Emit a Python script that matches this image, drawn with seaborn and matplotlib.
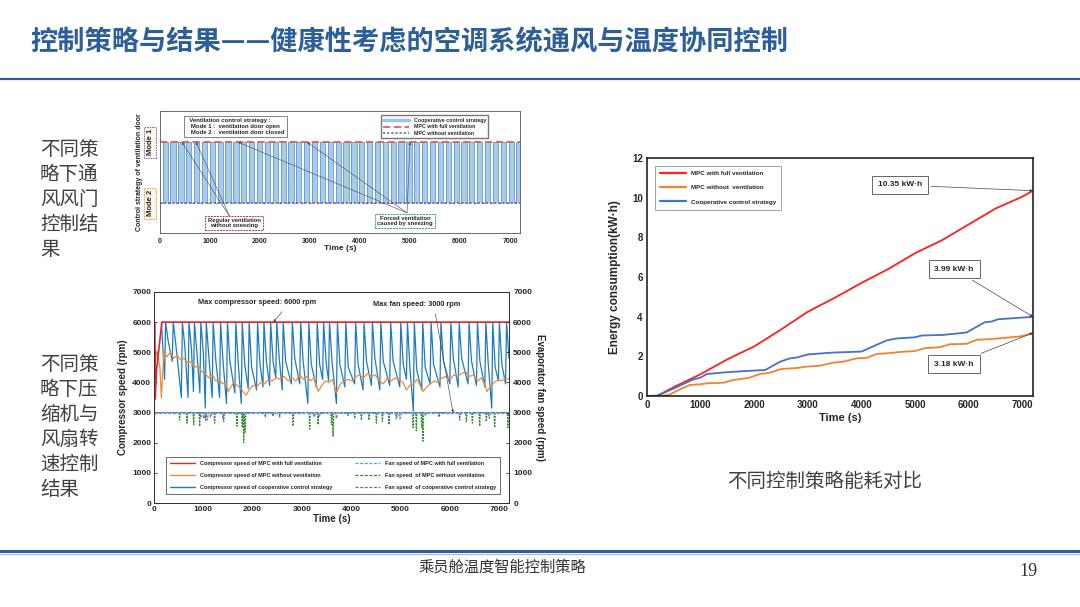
import matplotlib
matplotlib.use("Agg")
import matplotlib.pyplot as plt
from matplotlib.lines import Line2D
import seaborn as sns

# ---------------- data ----------------
# top chart: ventilation door state of the cooperative strategy (s)
door_on_t = [50, 205, 365, 520, 680, 835, 990, 1150, 1305, 1465,
             1620, 1780, 1935, 2095, 2250, 2410, 2565, 2720, 2880, 3035,
             3195, 3350, 3510, 3665, 3825, 3980, 4140, 4295, 4450, 4610,
             4765, 4925, 5080, 5240, 5395, 5555, 5710, 5870, 6025, 6180,
             6340, 6495, 6655, 6810, 6970, 7125]
door_off_t = [155, 310, 470, 625, 785, 940, 1095, 1255, 1410, 1570,
              1725, 1885, 2040, 2200, 2355, 2515, 2670, 2825, 2985, 3140,
              3300, 3455, 3615, 3770, 3930, 4085, 4245, 4400, 4555, 4715,
              4870, 5030, 5185, 5345, 5500, 5660, 5815, 5975, 6130, 6285,
              6445, 6600, 6760, 6915, 7075, 7200]
mode_labels = ["Mode 2", "", "Mode 1"]

# bottom chart: compressor speed (rpm)
comp_max = 6000
comp_full_t = [0, 10, 25, 50, 160, 7200]
comp_full_v = [550, 6000, 3450, 4400, 6000, 6000]
coop_trough_t = [215, 370, 555, 690, 800, 930, 1040, 1180, 1330, 1470,
                 1640, 1770, 1910, 2080, 2210, 2345, 2470, 2600, 2785, 2955,
                 3120, 3290, 3420, 3540, 3700, 3870, 4070, 4240, 4410, 4580,
                 4780, 4985, 5120, 5260, 5430, 5600, 5800, 6000, 6170, 6370,
                 6540, 6710, 6850, 6985, 7130]
coop_trough_v = [4100, 4700, 3500, 3500, 3700, 3650, 3150, 3500, 3500, 3300,
                 3650, 3300, 3800, 3750, 3850, 3900, 4150, 3750, 3950, 3950,
                 3300, 3850, 4100, 4050, 3300, 3850, 3950, 3750, 3900, 3750,
                 3900, 3850, 4100, 3050, 3750, 3950, 3850, 3950, 3850, 3950,
                 3900, 3850, 3150, 4050, 3950]
coop_mid_v = [5400, 5300, 5200, 5100, 5000, 5000, 4900, 4800, 4700, 4700,
              4600, 4600, 4500, 4600, 4700, 4700, 4800, 4700, 4800, 4700,
              4600, 4600, 4700, 4700, 4600, 4500, 4600, 4700, 4800, 4700,
              4700, 4600, 4500, 4400, 4500, 4600, 4700, 4800, 4800, 4700,
              4700, 4600, 4500, 4600, 4800]
comp_without_t = [20, 60, 120, 150, 200, 260, 330, 400, 470, 540,
                  610, 680, 750, 820, 900, 970, 1040, 1110, 1180, 1250,
                  1320, 1390, 1460, 1500, 1560, 1620, 1690, 1760, 1830, 1870,
                  1930, 2000, 2080, 2160, 2240, 2320, 2400, 2480, 2560, 2640,
                  2720, 2800, 2880, 2955, 3030, 3100, 3180, 3250, 3330, 3400,
                  3480, 3550, 3620, 3700, 3780, 3860, 3940, 4020, 4100, 4170,
                  4250, 4330, 4410, 4490, 4570, 4650, 4730, 4810, 4890, 4970,
                  5050, 5120, 5190, 5260, 5330, 5400, 5460, 5530, 5600, 5680,
                  5760, 5840, 5920, 6000, 6080, 6160, 6240, 6320, 6400, 6480,
                  6560, 6640, 6720, 6750, 6820, 6900, 6980, 7060, 7130, 7200]
comp_without_v = [4600, 5050, 4500, 3480, 5050, 4850, 5000, 4800, 4900, 4750,
                  4800, 4650, 4700, 4500, 4550, 4350, 4300, 4150, 4250, 4050,
                  4100, 3950, 4000, 3700, 3850, 4000, 3900, 3800, 3650, 3580,
                  3750, 3900, 3850, 4000, 3950, 4100, 4050, 4150, 4100, 4200,
                  4050, 4150, 4050, 4250, 4100, 4200, 4050, 4150, 3700, 3900,
                  4050, 4000, 4100, 3650, 3950, 4050, 4100, 4050, 4200, 4250,
                  4150, 4300, 4200, 4250, 4050, 3950, 4150, 4050, 4150, 4100,
                  4000, 3750, 3900, 3950, 4100, 3900, 3700, 3850, 3950, 4050,
                  4000, 4150, 4200, 4100, 4250, 4200, 4300, 4350, 4200, 4250,
                  4050, 4150, 3900, 3700, 3850, 4000, 4100, 4050, 4150, 4100]

# bottom chart: evaporator fan speed (rpm)
fan_max = 3000
fan_without_dip_t = [520, 670, 805, 926, 1048, 1230, 1413, 1684, 1790, 1819,
                     1848, 2258, 2414, 2549, 2820, 3158, 3327, 3600, 3631, 3935,
                     4070, 4206, 4361, 4510, 4632, 4767, 4915, 5254, 5321, 5430,
                     5456, 5781, 6065, 6200, 6335, 6457, 6606, 6741, 6910, 7180]
fan_without_dip_v = [2750, 2650, 2600, 2550, 2750, 2650, 2700, 2550, 2500, 2000,
                     2350, 2850, 2880, 2850, 2550, 2450, 2600, 2600, 2200, 2900,
                     2800, 2750, 2750, 2650, 2700, 2600, 2800, 2500, 2400, 2500,
                     2050, 2850, 2950, 2750, 2700, 2650, 2550, 2700, 2500, 2500]
fan_coop_dip_t = [950, 1010, 1080, 1150, 1400, 3250, 3350, 3700, 4920, 4990, 5500, 6800]
fan_coop_dip_v = [2850, 2800, 2750, 2850, 2800, 2850, 2850, 2800, 2850, 2800, 2900, 2800]

# right chart: energy consumption (kW·h)
energy_full_t = [0, 200, 500, 1000, 1500, 2000, 2500, 3000, 3500, 4000,
                 4500, 5000, 5500, 6000, 6500, 7000, 7200]
energy_full_v = [0, 0.02, 0.45, 1.1, 1.85, 2.5, 3.35, 4.25, 4.95, 5.7,
                 6.4, 7.2, 7.85, 8.65, 9.45, 10.05, 10.35]
energy_coop_t = [0, 180, 500, 850, 1000, 1117, 1490, 1986, 2204, 2483,
                 2669, 2793, 3010, 3476, 4003, 4283, 4470, 4655, 5000, 5121,
                 5525, 5959, 6300, 6425, 6549, 7200]
energy_coop_v = [0, 0, 0.38, 0.82, 0.93, 1.11, 1.2, 1.28, 1.31, 1.73,
                 1.9, 1.94, 2.1, 2.19, 2.24, 2.58, 2.8, 2.9, 2.96, 3.05,
                 3.08, 3.2, 3.72, 3.75, 3.87, 3.99]
energy_without_t = [0, 248, 403, 621, 807, 993, 1117, 1428, 1614, 1893,
                    2110, 2297, 2483, 2607, 2793, 2979, 3228, 3476, 3662, 3911,
                    4097, 4283, 4470, 4718, 5000, 5183, 5463, 5649, 5959, 6145,
                    6456, 6952, 7076, 7200]
energy_without_v = [0, 0, 0.05, 0.34, 0.56, 0.59, 0.64, 0.67, 0.81, 0.91,
                    1.11, 1.18, 1.35, 1.38, 1.41, 1.48, 1.53, 1.68, 1.73, 1.9,
                    1.92, 2.12, 2.15, 2.22, 2.27, 2.41, 2.46, 2.61, 2.63, 2.83,
                    2.88, 3.0, 3.08, 3.18]

T_END = 7200
time_ticks = [0, 1000, 2000, 3000, 4000, 5000, 6000, 7000]

# ---------------- style ----------------
sns.set_style("white")
plt.rcParams["font.family"] = ["Liberation Sans", "Noto Sans CJK SC", "DejaVu Sans"]
plt.rcParams["axes.linewidth"] = 0.8
CJK = ["Noto Sans CJK SC", "DejaVu Sans"]

fig = plt.figure(figsize=(10.8, 6.07), dpi=100)
W, H = 1080, 607


def ax_px(left, top, right, bottom):
    return fig.add_axes([left / W, 1 - bottom / H, (right - left) / W, (bottom - top) / H])


# ---------------- slide frame ----------------
fig.text(30 / W, 1 - 42 / H, "控制策略与结果——健康性考虑的空调系统通风与温度协同控制",
         family=CJK, fontsize=19.6, fontweight="bold", color="#2D5E99", va="center", ha="left")
fig.add_artist(Line2D([0, 1], [1 - 79 / H, 1 - 79 / H], color="#2F5C95", lw=1.6))
fig.add_artist(Line2D([0, 1], [1 - 551 / H, 1 - 551 / H], color="#2F5C95", lw=2.2))
fig.add_artist(Line2D([0, 1], [1 - 553.5 / H, 1 - 553.5 / H], color="#9DB7D9", lw=0.8))
fig.text(502 / W, 1 - 567 / H, "乘员舱温度智能控制策略", family=CJK, fontsize=11,
         color="#333333", ha="center", va="center")
fig.text(1028 / W, 1 - 571 / H, "19", family=["Liberation Serif"], fontsize=13,
         color="#333333", ha="center", va="center")

fig.text(40 / W, 1 - 199.5 / H, "不同策\n略下通\n风风门\n控制结\n果", family=CJK,
         fontsize=14, color="#404040", ha="left", va="center", linespacing=1.25)
fig.text(40 / W, 1 - 427 / H, "不同策\n略下压\n缩机与\n风扇转\n速控制\n结果", family=CJK,
         fontsize=14, color="#404040", ha="left", va="center", linespacing=1.25)
fig.text(825 / W, 1 - 481 / H, "不同控制策略能耗对比", family=CJK, fontsize=14,
         color="#404040", ha="center", va="center")

# ---------------- top-left: ventilation door ----------------
ax1 = ax_px(160, 111, 520, 233)
door_x, door_y = [0], [0]
for a, b in zip(door_on_t, door_off_t):
    door_x += [a, a, b, b]
    door_y += [0, 1, 1, 0]
ax1.fill_between(door_x, 0, door_y, color="#A9CBE9", lw=0)
sns.lineplot(x=door_x, y=door_y, estimator=None, sort=False, ax=ax1,
             color="#5B9BD5", lw=0.6)
sns.lineplot(x=[0, T_END], y=[1, 1], estimator=None, ax=ax1, color="#EE5A57",
             lw=1.3, linestyle=(0, (4, 2)))
sns.lineplot(x=[0, T_END], y=[0, 0], estimator=None, ax=ax1, color="#6A4FA6",
             lw=1.1, linestyle=(0, (1.5, 1.2)))
ax1.set_xlim(0, T_END)
ax1.set_ylim(-0.49, 1.51)
ax1.set_xticks(time_ticks)
ax1.set_xticklabels([str(t) for t in time_ticks], fontsize=5, fontweight="bold")
ax1.set_yticks([0, 0.5, 1])
ax1.set_yticklabels(mode_labels, rotation=90, fontsize=5.5, fontweight="bold",
                    va="center")
for lab, ec in zip(ax1.get_yticklabels(), ["#E0A040", "none", "#8E5CB8"]):
    lab.set_bbox(dict(boxstyle="square,pad=0.3", fc="#FBF6EA" if ec != "none" else "none",
                      ec=ec, ls=(0, (1.5, 1)), lw=0.7))
ax1.tick_params(axis="both", length=2, width=0.5, pad=1.5)
ax1.tick_params(axis="y", pad=2.5)
ax1.set_xlabel("Time (s)", fontsize=6, fontweight="bold", labelpad=0)
ax1.set_ylabel("Control strategy of ventilation door", fontsize=5, fontweight="bold",
               labelpad=3)
for s in ax1.spines.values():
    s.set_linewidth(0.6)
    s.set_color("#555555")

ax1.text(520, 1.255, "  Ventilation control strategy :\n   Mode 1 :  ventilation door open\n"
         "   Mode 2 :  ventilation door closed", fontsize=4.3, fontweight="bold",
         ha="left", va="center", linespacing=1.15,
         bbox=dict(boxstyle="square,pad=0.35", fc="white", ec="#555555", lw=0.5))
h1 = [Line2D([], [], color="#9DC3E6", lw=2.5),
      Line2D([], [], color="#EE5A57", lw=1.3, ls=(0, (4, 2))),
      Line2D([], [], color="#6A4FA6", lw=1.1, ls=(0, (1.5, 1.2)))]
ax1.legend(h1, ["Cooperative control strategy", "MPC with full ventilation",
                "MPC without ventilation"], loc="upper left",
           bbox_to_anchor=(0.606, 0.985), handlelength=5,
           frameon=True, fancybox=False, edgecolor="#555555", borderpad=0.4,
           labelspacing=0.35, prop=dict(size=3.8, weight="bold"))

arrow_kw = dict(arrowstyle="-|>", color="#555555", lw=0.45, mutation_scale=3.5,
                shrinkA=0, shrinkB=0)
for t in [440, 720]:
    ax1.annotate("", xy=(t, 1), xytext=(1400, -0.23), arrowprops=arrow_kw)
for t in [1560, 2940, 5000]:
    ax1.annotate("", xy=(t, 1), xytext=(4940, -0.16), arrowprops=arrow_kw)
ax1.text(1480, -0.32, "Regular ventilation\nwithout sneezing", fontsize=4.2,
         fontweight="bold", ha="center", va="center", linespacing=1.0,
         bbox=dict(boxstyle="square,pad=0.35", fc="white", ec="#C0392B",
                   ls=(0, (2, 1)), lw=0.7))
ax1.text(4900, -0.29, "Forced ventilation\ncaused by sneezing", fontsize=4.2,
         fontweight="bold", ha="center", va="center", linespacing=1.0,
         bbox=dict(boxstyle="square,pad=0.35", fc="white", ec="#2E9E6B",
                   ls=(0, (2, 1)), lw=0.7))

# ---------------- bottom-left: compressor / fan speed ----------------
ax2 = ax_px(154, 292, 509, 503)

coop_t, coop_v = [150], [comp_max]
for t, v, m in zip(coop_trough_t, coop_trough_v, coop_mid_v):
    coop_t += [t, t + 20, min(t + 70, T_END)]
    coop_v += [v, comp_max, m]


def dip_series(dip_t, dip_v, base, half):
    xs, ys = [0], [base]
    for t, v in zip(dip_t, dip_v):
        xs += [t - half, t, t + half]
        ys += [base, v, base]
    xs.append(T_END)
    ys.append(base)
    return xs, ys


gx, gy = dip_series(fan_without_dip_t, fan_without_dip_v, fan_max, 13)
px, py = dip_series(fan_coop_dip_t, fan_coop_dip_v, fan_max, 28)

c_full, c_without, c_coop = "#E3262A", "#EA8C3C", "#1F7BBF"
f_full, f_without, f_coop = "#4AA6DC", "#2E8B2E", "#8A62B4"

sns.lineplot(x=coop_t, y=coop_v, estimator=None, sort=False, ax=ax2, color=c_coop, lw=0.9)
sns.lineplot(x=comp_without_t, y=comp_without_v, estimator=None, sort=False, ax=ax2,
             color=c_without, lw=0.9)
sns.lineplot(x=comp_full_t, y=comp_full_v, estimator=None, sort=False, ax=ax2,
             color=c_full, lw=1.2)
sns.lineplot(x=gx, y=gy, estimator=None, sort=False, ax=ax2, color=f_without, lw=0.9,
             linestyle=(0, (1.5, 1)))
sns.lineplot(x=px, y=py, estimator=None, sort=False, ax=ax2, color=f_coop, lw=0.8,
             linestyle=(0, (2.5, 1.2)))
sns.lineplot(x=[0, T_END], y=[fan_max, fan_max], estimator=None, ax=ax2, color=f_full,
             lw=0.9, linestyle=(0, (2.5, 1.2)))

speed_ticks = [0, 1000, 2000, 3000, 4000, 5000, 6000, 7000]
ax2.set_xlim(0, T_END)
ax2.set_ylim(0, 7000)
ax2.set_xticks(time_ticks)
ax2.set_xticklabels([str(t) for t in time_ticks], fontsize=6, fontweight="bold")
ax2.set_yticks(speed_ticks)
ax2.set_yticklabels([str(v) for v in speed_ticks], fontsize=6, fontweight="bold")
ax2.tick_params(axis="both", length=2.5, width=0.6, pad=2, direction="in")
ax2.set_xlabel("Time (s)", fontsize=7, fontweight="bold", labelpad=1)
ax2.set_ylabel("Compressor speed (rpm)", fontsize=7, fontweight="bold", labelpad=3)
ax2r = ax2.twinx()
ax2r.set_ylim(0, 7000)
ax2r.set_yticks(speed_ticks)
ax2r.set_yticklabels([str(v) for v in speed_ticks], fontsize=6, fontweight="bold")
ax2r.tick_params(axis="y", length=2.5, width=0.6, pad=3, direction="in")
ax2r.set_ylabel("Evaporator fan speed (rpm)", fontsize=7, fontweight="bold",
                rotation=270, labelpad=9)
for a in (ax2, ax2r):
    for s in a.spines.values():
        s.set_linewidth(0.7)
        s.set_color("#333333")

ax2.annotate("Max compressor speed: 6000 rpm", xy=(2420, comp_max), xytext=(2090, 6640),
             fontsize=5.3, fontweight="bold", ha="center", va="center",
             arrowprops=dict(arrowstyle="-|>", color="#444444", lw=0.45,
                             mutation_scale=3.5, shrinkB=0, relpos=(0.75, 0)))
ax2.annotate("Max fan speed: 3000 rpm", xy=(6065, fan_max), xytext=(5330, 6600),
             fontsize=5.3, fontweight="bold", ha="center", va="center",
             arrowprops=dict(arrowstyle="-|>", color="#444444", lw=0.45,
                             mutation_scale=3.5, shrinkB=0, relpos=(0.7, 0)))

h2 = [Line2D([], [], color=c_full, lw=1.0),
      Line2D([], [], color=c_without, lw=1.0),
      Line2D([], [], color=c_coop, lw=1.0),
      Line2D([], [], color=f_full, lw=0.9, ls=(0, (2.5, 1.2))),
      Line2D([], [], color=f_without, lw=0.9, ls=(0, (2.5, 1.2))),
      Line2D([], [], color=f_coop, lw=0.9, ls=(0, (2.5, 1.2)))]
l2 = ["Compressor speed of MPC with full ventilation",
      "Compressor speed of MPC without ventilation",
      "Compressor speed of cooperative control strategy",
      "Fan speed of MPC with full ventilation",
      "Fan speed  of MPC without ventilation",
      "Fan speed  of cooperative control strategy"]
ax2.legend(h2, l2, ncol=2, loc="lower left", bbox_to_anchor=(0.025, 0.028, 0.958, 0.2),
           mode="expand", prop=dict(size=4.0, weight="bold"), handlelength=4.5,
           frameon=True, fancybox=False, edgecolor="#444444", borderpad=0.8,
           labelspacing=1.25, columnspacing=1.0)
ax2.get_legend().get_frame().set_linewidth(0.7)

# ---------------- right: energy consumption ----------------
ax3 = ax_px(647, 158, 1033, 396)
e_full, e_without, e_coop = "#FF1F1F", "#F5822B", "#4472C4"
sns.lineplot(x=energy_full_t, y=energy_full_v, estimator=None, ax=ax3, color=e_full, lw=1.3)
sns.lineplot(x=energy_without_t, y=energy_without_v, estimator=None, ax=ax3,
             color=e_without, lw=1.3)
sns.lineplot(x=energy_coop_t, y=energy_coop_v, estimator=None, ax=ax3, color=e_coop, lw=1.3)
ax3.set_xlim(0, T_END)
ax3.set_ylim(0, 12)
ax3.set_xticks(time_ticks)
ax3.set_xticklabels([str(t) for t in time_ticks], fontsize=7, fontweight="bold")
ax3.set_yticks([0, 2, 4, 6, 8, 10, 12])
ax3.set_yticklabels(["0", "2", "4", "6", "8", "10", "12"], fontsize=7, fontweight="bold")
ax3.tick_params(axis="both", length=2.5, width=0.7, pad=3, direction="in")
ax3.set_xlabel("Time (s)", fontsize=8, fontweight="bold", labelpad=2)
ax3.set_ylabel("Energy consumption(kW·h)", fontsize=8.5, fontweight="bold", labelpad=8)
for s in ax3.spines.values():
    s.set_linewidth(1.1)
    s.set_color("#111111")

h3 = [Line2D([], [], color=e_full, lw=1.6),
      Line2D([], [], color=e_without, lw=1.6),
      Line2D([], [], color=e_coop, lw=1.6)]
ax3.legend(h3, ["MPC with full ventilation", "MPC without  ventilation",
                "Cooperative control strategy"], loc="upper left",
           bbox_to_anchor=(0.012, 0.98), prop=dict(size=4.5, weight="bold"),
           handlelength=4.2, frameon=True, fancybox=False, edgecolor="#777777",
           borderpad=0.8, labelspacing=1.4)
ax3.get_legend().get_frame().set_linewidth(0.6)

box_kw = dict(boxstyle="square,pad=0.7", fc="white", ec="#666666", lw=0.7)
e_arrow = dict(arrowstyle="-|>", color="#444444", lw=0.5, mutation_scale=4, shrinkB=0)
for txt, xt, yt, yv in [("10.35 kW·h", 4720, 10.64, energy_full_v[-1]),
                        ("3.99 kW·h", 5727, 6.40, energy_coop_v[-1]),
                        ("3.18 kW·h", 5727, 1.61, energy_without_v[-1])]:
    ax3.annotate(txt, xy=(T_END, yv), xytext=(xt, yt), fontsize=6, fontweight="bold",
                 ha="center", va="center", bbox=box_kw, arrowprops=e_arrow)

fig.savefig("out.png", dpi=100)
